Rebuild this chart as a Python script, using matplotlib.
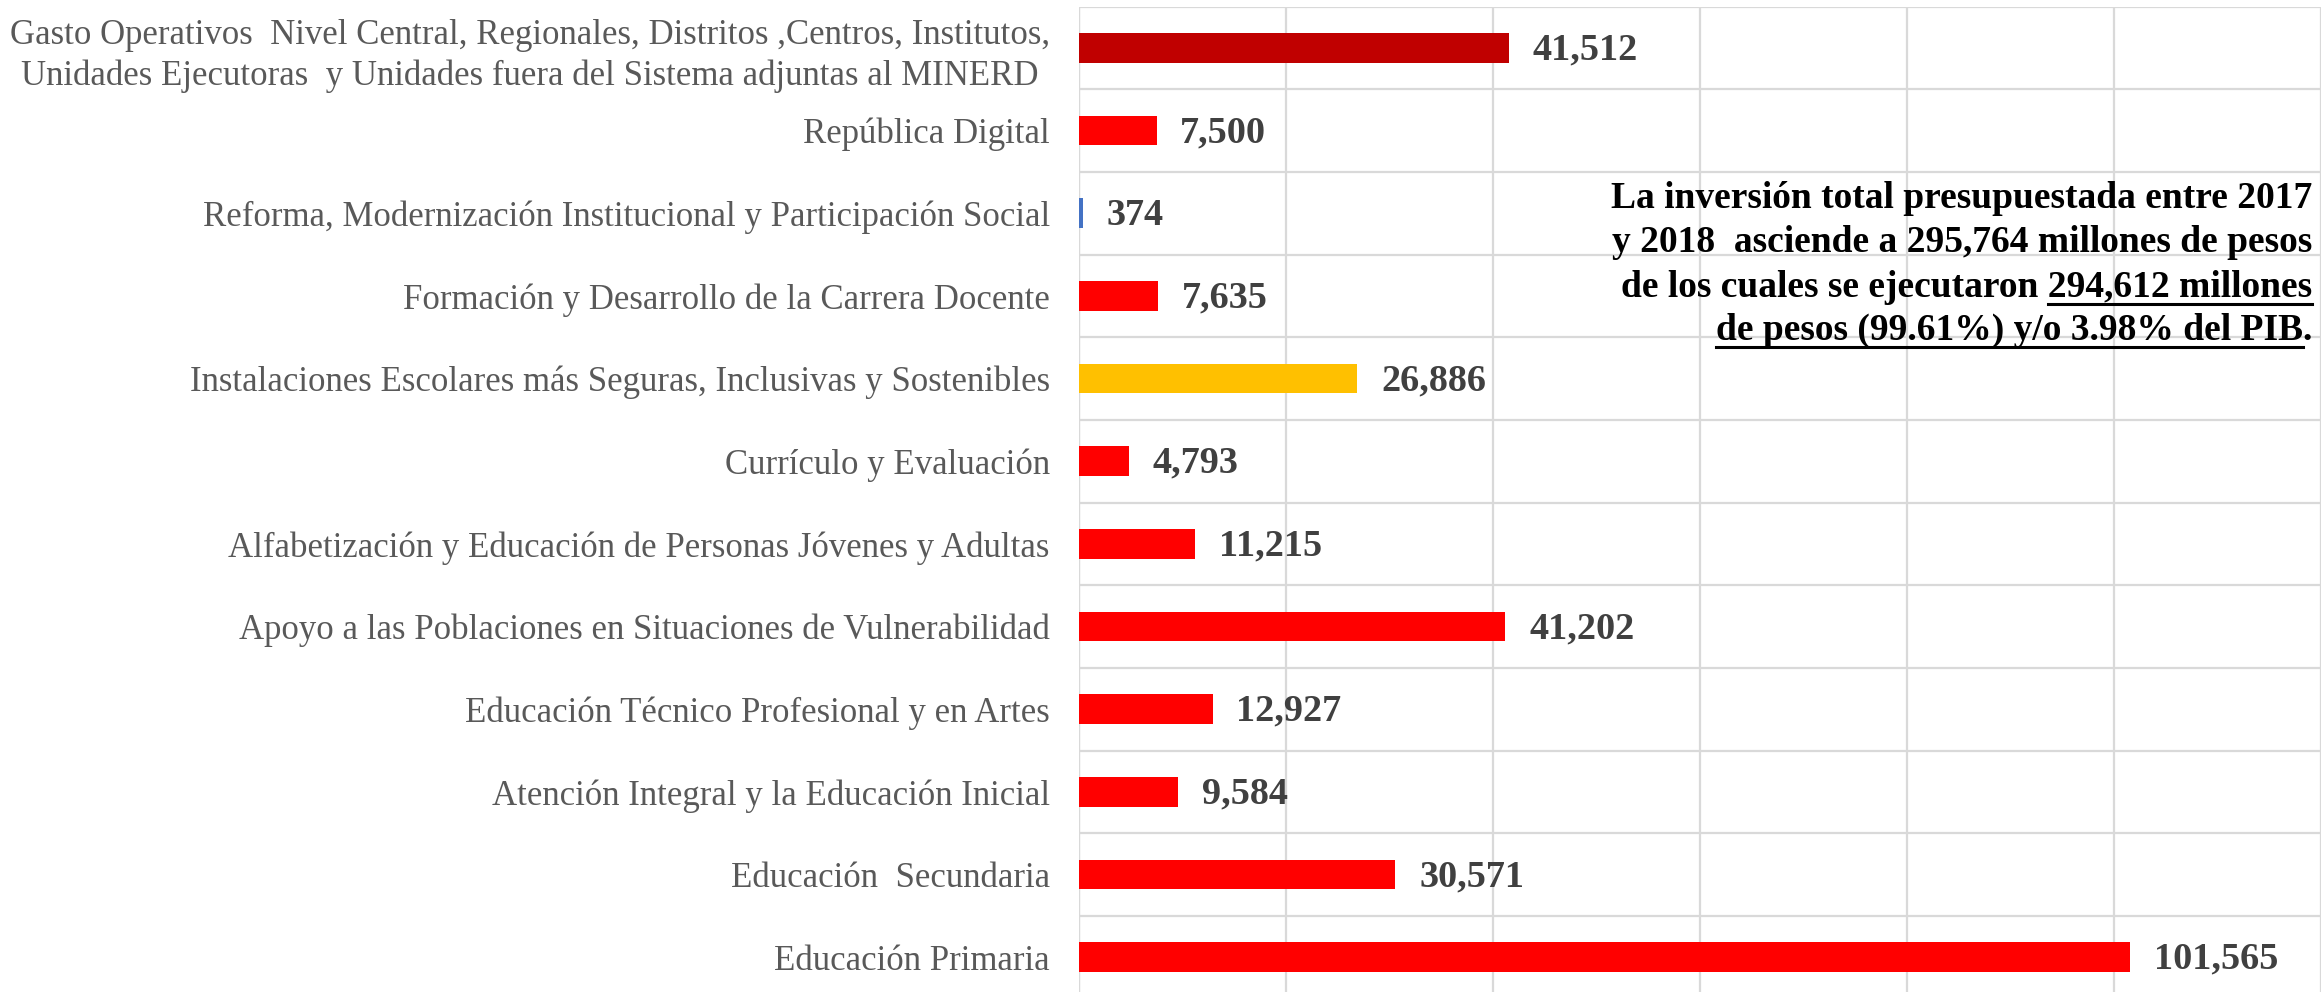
import matplotlib.pyplot as plt
from matplotlib.lines import Line2D

plt.rcParams["font.family"] = ["Liberation Serif", "DejaVu Serif"]

# categories from top to bottom as in the chart
categories = [
    "Gasto Operativos  Nivel Central, Regionales, Distritos ,Centros, Institutos,\nUnidades Ejecutoras  y Unidades fuera del Sistema adjuntas al MINERD",
    "República Digital",
    "Reforma, Modernización Institucional y Participación Social",
    "Formación y Desarrollo de la Carrera Docente",
    "Instalaciones Escolares más Seguras, Inclusivas y Sostenibles",
    "Currículo y Evaluación",
    "Alfabetización y Educación de Personas Jóvenes y Adultas",
    "Apoyo a las Poblaciones en Situaciones de Vulnerabilidad",
    "Educación Técnico Profesional y en Artes",
    "Atención Integral y la Educación Inicial",
    "Educación  Secundaria",
    "Educación Primaria",
]
values = [41512, 7500, 374, 7635, 26886, 4793, 11215, 41202, 12927, 9584, 30571, 101565]
bar_colors = ["#C00000", "#FF0000", "#4472C4", "#FF0000", "#FFC000", "#FF0000",
              "#FF0000", "#FF0000", "#FF0000", "#FF0000", "#FF0000", "#FF0000"]

note_lines = [
    "La inversión total presupuestada entre 2017",
    "y 2018  asciende a 295,764 millones de pesos",
    "de los cuales se ejecutaron 294,612 millones",
    "de pesos (99.61%) y/o 3.98% del PIB.",
]

W, H = 2321, 992
fig = plt.figure(figsize=(W / 100, H / 100), dpi=100)
ax = fig.add_axes([1079 / W, -6.5 / H, 1242 / W, 992 / H])

pos = list(range(len(categories)))
ax.barh(pos, values, height=0.36, color=bar_colors, zorder=3)
ax.set_ylim(len(categories) - 0.5, -0.5)  # first category on top
ax.set_xlim(0, 120000)

# excel style gridlines: vertical at 20k steps, horizontal between categories
ax.set_xticks(range(0, 120001, 20000))
ax.set_yticks(pos)
ax.set_yticklabels(categories, fontsize=25, color="#595959", ha="right", multialignment="center",
                   linespacing=1.3)
ax.set_yticks([p + 0.5 for p in pos[:-1]] + [-0.5], minor=True)
ax.tick_params(axis="y", which="both", length=0, pad=21)
ax.tick_params(axis="x", length=0, labelbottom=False)
ax.grid(axis="x", which="major", color="#D9D9D9", linewidth=1.6, zorder=0)
ax.grid(axis="y", which="minor", color="#D9D9D9", linewidth=1.6, zorder=0)
for s in ax.spines.values():
    s.set_visible(False)
ax.axvline(0, color="#D9D9D9", linewidth=1.6, zorder=1)

for p, v in zip(pos, values):
    ax.annotate(f"{v:,}", (v, p), xytext=(17, -1.5), textcoords="offset points",
                va="center", ha="left", fontsize=27.5, fontweight="bold", color="#404040")

# note on the right, with underlined part
NOTE_FS = 27
xr_px = 2312
baselines = [208, 252, 297, 340]
texts = []
for line, y in zip(note_lines, baselines):
    texts.append(fig.text(xr_px / W, 1 - y / H, line, fontsize=NOTE_FS, fontweight="bold",
                          color="black", ha="right", va="baseline"))

fig.canvas.draw()
r = fig.canvas.get_renderer()


def width_of(s):
    t = fig.text(0, 0, s, fontsize=NOTE_FS, fontweight="bold")
    w = t.get_window_extent(r).width
    t.remove()
    return w


def underline(y_px, x0_px, x1_px):
    yy = 1 - y_px / H
    fig.add_artist(Line2D([x0_px / W, x1_px / W], [yy, yy], color="black", linewidth=2.2,
                          transform=fig.transFigure))


w3 = width_of("294,612 millones")
underline(baselines[2] + 7, xr_px - w3, xr_px)
w4 = texts[3].get_window_extent(r).width
wdot = width_of(".")
underline(baselines[3] + 7, xr_px - w4, xr_px - wdot)

fig.savefig("out.png", dpi=100)
